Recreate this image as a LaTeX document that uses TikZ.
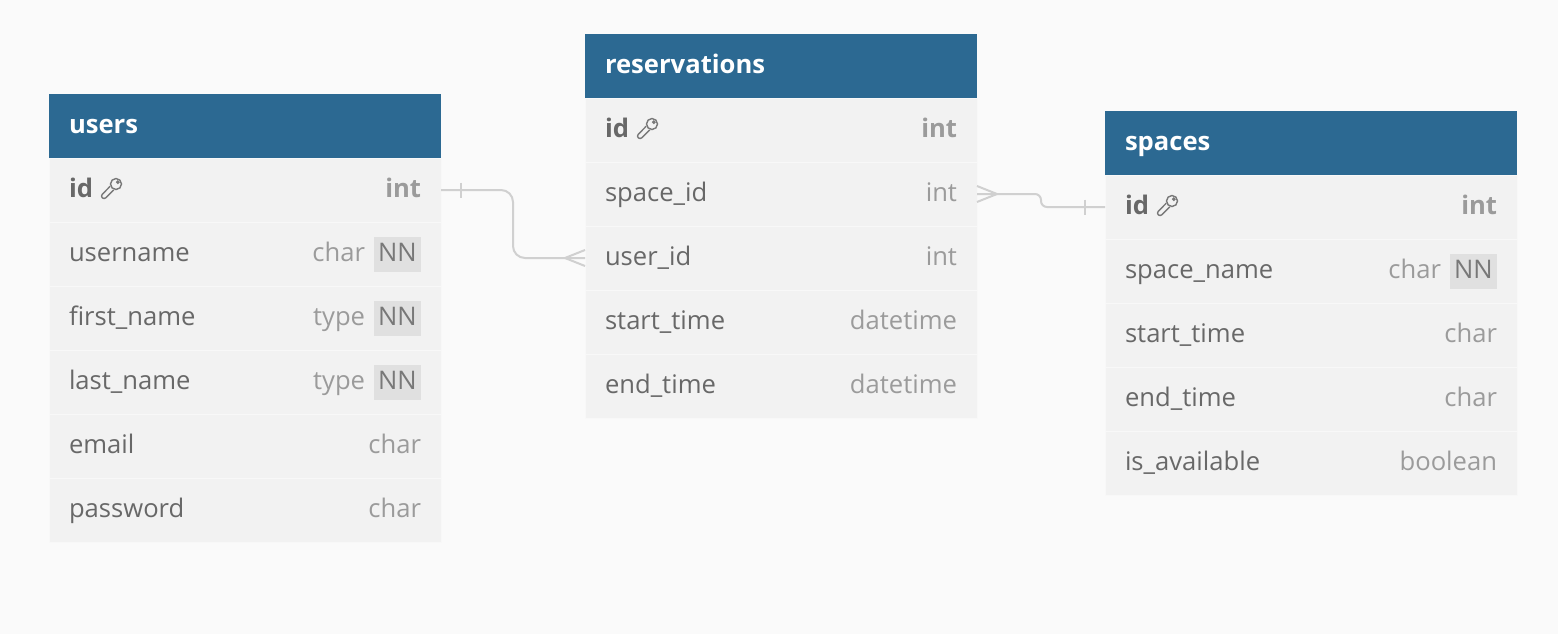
\documentclass[tikz,border=0pt]{standalone}
\usepackage{fontspec}
\setmainfont{Open Sans}
\usetikzlibrary{positioning}
\definecolor{bgcol}{RGB}{250,250,250}
\definecolor{headblue}{RGB}{44,105,146}
\definecolor{rowfill}{RGB}{242,242,242}
\definecolor{rowline}{RGB}{248,248,248}
\definecolor{namegray}{RGB}{104,104,104}
\definecolor{typegray}{RGB}{155,155,155}
\definecolor{nnfill}{RGB}{224,224,224}
\definecolor{nntext}{RGB}{120,120,120}
\definecolor{linkgray}{RGB}{208,208,208}
\definecolor{keygray}{RGB}{120,120,120}
\newcommand{\ftype}[1]{\textcolor{typegray}{#1}}
\newcommand{\nn}{{\setlength{\fboxsep}{2.2pt}\colorbox{nnfill}{\textcolor{nntext}{NN\vphantom{dg}}}}}
\tikzset{head/.style = {fill=headblue, text=white, font=\fontsize{12.8}{15}\selectfont\bfseries, anchor=north west,
    minimum height=32pt, inner xsep=10pt, inner ysep=0, outer sep=0, text height=10pt, text depth=3pt}}
\tikzset{row/.style = {fill=rowfill, draw=rowline, line width=0.5pt, text=namegray, font=\fontsize{12.8}{15}\selectfont,
    minimum height=32pt, inner xsep=10pt, inner ysep=0, outer sep=0, text height=10pt, text depth=3pt, below=0pt of #1}}
\tikzset{link/.style = {draw=linkgray, line width=1pt}}
\tikzset{key/.pic = {
    \draw [keygray, fill=rowfill, line width=0.7pt, line join=round] (1.77, 1.77) -- (-6.2, 9.8) arc (45:225:2.5) -- (-1.77, -1.77);
    \draw [keygray, fill=rowfill, line width=0.7pt] (4, -4) circle (5.5);
    \draw [keygray, line width=0.6pt] (5.8, -5.8) circle (1.2);
}}

\begin{document}
\begin{tikzpicture}[x=0.5pt, y=-0.5pt]
    \fill [bgcol] (0, 0) rectangle (1558, 634);

    \begin{scope}[every node/.append style={text width=176pt}]
    \node [head] (users) at (49, 94) {users};
    \node [row=users] (users-id) {\textbf{id}\hfill\textbf{\ftype{int}}};
    \node [row=users-id] (users-username) {username\hfill\ftype{char} \nn};
    \node [row=users-username] (users-first) {first\_name\hfill\ftype{type} \nn};
    \node [row=users-first] (users-last) {last\_name\hfill\ftype{type} \nn};
    \node [row=users-last] (users-email) {email\hfill\ftype{char}};
    \node [row=users-email] (users-password) {password\hfill\ftype{char}};

    \node [head] (res) at (585, 34) {reservations};
    \node [row=res] (res-id) {\textbf{id}\hfill\textbf{\ftype{int}}};
    \node [row=res-id] (res-space) {space\_id\hfill\ftype{int}};
    \node [row=res-space] (res-user) {user\_id\hfill\ftype{int}};
    \node [row=res-user] (res-start) {start\_time\hfill\ftype{datetime}};
    \node [row=res-start] (res-end) {end\_time\hfill\ftype{datetime}};
    \end{scope}

    \begin{scope}[every node/.append style={text width=186pt}]
    \node [head] (spaces) at (1105, 111) {spaces};
    \node [row=spaces] (spaces-id) {\textbf{id}\hfill\textbf{\ftype{int}}};
    \node [row=spaces-id] (spaces-name) {space\_name\hfill\ftype{char} \nn};
    \node [row=spaces-name] (spaces-start) {start\_time\hfill\ftype{char}};
    \node [row=spaces-start] (spaces-end) {end\_time\hfill\ftype{char}};
    \node [row=spaces-end] (spaces-avail) {is\_available\hfill\ftype{boolean}};
    \end{scope}

    \pic at ([shift={(63, -2)}]users-id.west) {key};
    \pic at ([shift={(63, -2)}]res-id.west) {key};
    \pic at ([shift={(63, -2)}]spaces-id.west) {key};

    \draw [link, rounded corners=6pt] (users-id.east) -- ++(72, 0) |- (res-user.west);
    \draw [link] ([xshift=10pt, yshift=3.75pt]users-id.east) -- ([xshift=10pt, yshift=-3.75pt]users-id.east);
    \draw [link] ([yshift=4pt]res-user.west) -- ([xshift=-10pt]res-user.west) -- ([yshift=-4pt]res-user.west);

    \draw [link, rounded corners=3pt] (res-space.east) -- ++(64, 0) |- (spaces-id.west);
    \draw [link] ([yshift=4pt]res-space.east) -- ([xshift=10pt]res-space.east) -- ([yshift=-4pt]res-space.east);
    \draw [link] ([xshift=-10pt, yshift=3.75pt]spaces-id.west) -- ([xshift=-10pt, yshift=-3.75pt]spaces-id.west);
  \end{tikzpicture}
\end{document}
